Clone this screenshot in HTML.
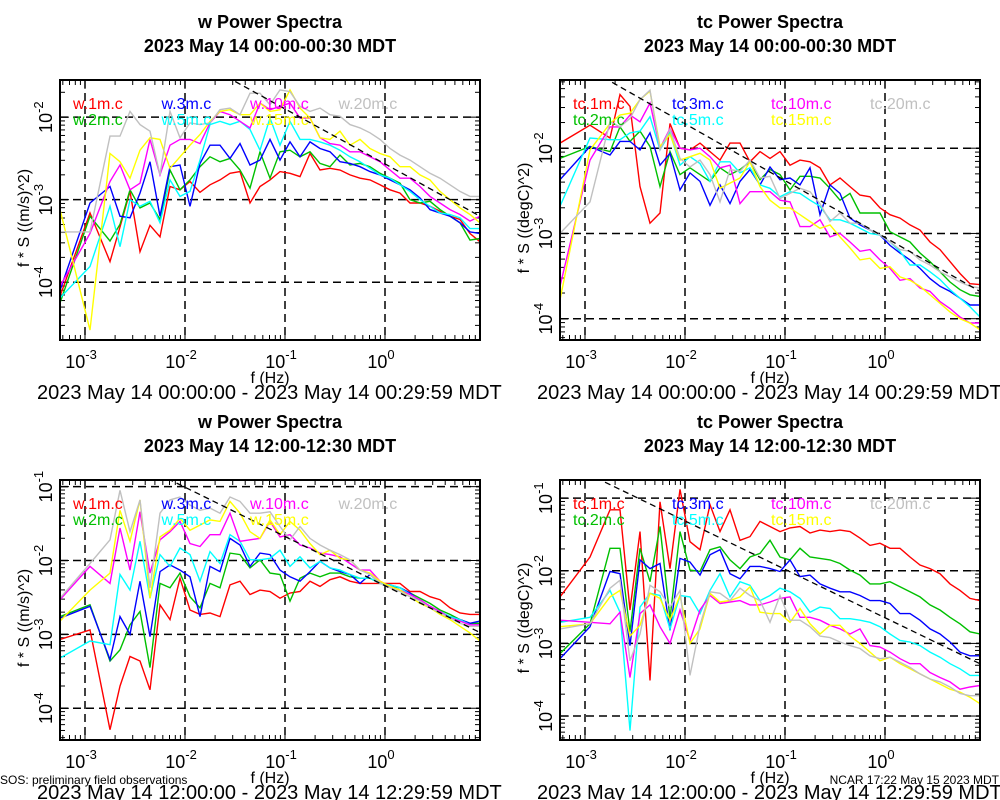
<!DOCTYPE html>
<html><head><meta charset="utf-8"><style>
html,body{margin:0;padding:0;background:#fff;}
svg{display:block;font-family:"Liberation Sans",sans-serif;}
</style></head><body>
<svg id="chart" width="1000" height="800" viewBox="0 0 1000 800" xmlns="http://www.w3.org/2000/svg"></svg>
<script>
// log10 frequency (Hz)
const freqLog = [-3.25,-2.95,-2.75,-2.65,-2.55,-2.45,-2.35,-2.25,-2.15,-2.05,-1.95,-1.85,-1.75,-1.65,-1.55,-1.45,-1.35,-1.25,-1.15,-1.05,-0.95,-0.85,-0.75,-0.65,-0.55,-0.45,-0.35,-0.25,-0.15,-0.05,0.05,0.15,0.25,0.35,0.45,0.55,0.65,0.75,0.85,0.95];
const xTickExps = [-3,-2,-1,0];
const seriesColors = ["#ff0000","#00c000","#0000ff","#00ffff","#ff00ff","#ffff00","#c0c0c0"];
const wNames = ["w.1m.c","w.2m.c","w.3m.c","w.5m.c","w.10m.c","w.15m.c","w.20m.c"];
const tcNames = ["tc.1m.c","tc.2m.c","tc.3m.c","tc.5m.c","tc.10m.c","tc.15m.c","tc.20m.c"];

// Panel 1: w, 00:00-00:30 (log10 of f*S)
const p1Red=[-4.17,-3.16,-3.75,-3.33,-2.90,-3.63,-3.31,-3.45,-2.84,-2.88,-2.78,-2.91,-2.82,-2.76,-2.68,-2.66,-3.04,-2.84,-2.76,-2.66,-2.68,-2.72,-2.44,-2.64,-2.62,-2.64,-2.70,-2.74,-2.76,-2.82,-2.88,-2.92,-3.04,-3.04,-3.08,-3.14,-3.20,-3.24,-3.41,-3.51];
const p1Green=[-4.25,-3.2,-3.5,-3.3,-2.88,-3.1,-3.04,-3.24,-2.64,-2.88,-2.76,-2.6,-2.48,-2.54,-2.5,-2.64,-2.86,-2.42,-2.74,-2.42,-2.4,-2.48,-2.42,-2.56,-2.6,-2.46,-2.58,-2.56,-2.6,-2.68,-2.74,-2.8,-3.0,-3.04,-3.02,-3.12,-3.2,-3.28,-3.49,-3.47];
const p1Blue=[-4.1,-3.04,-2.84,-3.2,-3.22,-2.92,-2.54,-3.2,-2.6,-2.58,-3.08,-2.56,-2.34,-2.34,-2.5,-2.32,-2.58,-2.52,-2.27,-2.52,-2.3,-2.48,-2.3,-2.38,-2.42,-2.54,-2.56,-2.6,-2.66,-2.7,-2.76,-2.82,-2.88,-2.98,-3.12,-3.16,-3.2,-3.28,-3.39,-3.41];
const p1Cyan=[-4.19,-3.81,-3.08,-3.57,-3.0,-3.08,-3.02,-3.28,-2.76,-2.96,-2.9,-2.52,-2.09,-2.05,-2.09,-2.05,-2.15,-2.4,-2.01,-2.34,-2.05,-2.27,-2.27,-2.3,-2.34,-2.4,-2.48,-2.54,-2.62,-2.7,-2.74,-2.82,-2.9,-3.0,-3.08,-3.16,-3.18,-3.22,-3.35,-3.35];
const p1Magenta=[-4.05,-3.41,-2.78,-2.58,-2.88,-2.8,-2.27,-2.7,-2.34,-2.27,-2.27,-2.32,-2.07,-1.93,-1.97,-2.05,-2.13,-1.83,-1.91,-1.87,-1.83,-2.01,-2.01,-2.25,-2.32,-2.34,-2.42,-2.42,-2.48,-2.54,-2.64,-2.74,-2.74,-2.84,-2.96,-3.04,-3.12,-3.18,-3.26,-3.2];
const p1Yellow=[-3.12,-4.58,-2.44,-2.54,-2.74,-2.4,-2.25,-2.27,-2.62,-2.48,-2.34,-2.21,-2.05,-1.93,-1.91,-1.97,-1.97,-1.83,-1.93,-1.91,-1.67,-1.89,-2.01,-2.25,-2.27,-2.17,-2.34,-2.27,-2.38,-2.44,-2.48,-2.6,-2.6,-2.7,-2.76,-2.9,-3.0,-3.1,-3.18,-3.28];
const p1Gray=[-3.39,-3.39,-2.23,-2.23,-1.93,-2.09,-2.17,-2.7,-1.93,-2.25,-2.07,-2.09,-2.07,-1.91,-1.89,-1.97,-1.71,-1.71,-1.85,-1.67,-1.69,-1.87,-1.93,-1.89,-1.97,-1.99,-2.09,-2.13,-2.19,-2.27,-2.38,-2.46,-2.52,-2.6,-2.68,-2.74,-2.82,-2.9,-2.96,-2.96];

// Panel 2: tc, 00:00-00:30
const p2Red=[-1.94,-1.73,-1.88,-1.37,-1.51,-2.45,-2.88,-2.76,-1.71,-2.0,-2.02,-1.94,-2.04,-2.14,-1.94,-1.94,-2.16,-2.04,-2.12,-2.04,-2.2,-2.14,-2.16,-2.23,-2.43,-2.35,-2.45,-2.55,-2.57,-2.7,-2.78,-2.82,-2.9,-2.96,-3.1,-3.19,-3.33,-3.47,-3.59,-3.6];
const p2Green=[-2.12,-1.98,-2.04,-1.75,-1.92,-1.8,-1.98,-2.45,-2.04,-2.31,-2.23,-2.31,-2.39,-2.23,-2.31,-2.25,-2.16,-2.37,-2.25,-2.31,-2.49,-2.33,-2.33,-2.35,-2.47,-2.61,-2.53,-2.76,-2.76,-2.76,-2.98,-3.04,-3.1,-3.23,-3.33,-3.45,-3.57,-3.66,-3.72,-3.74];
const p2Blue=[-2.37,-1.98,-2.08,-1.92,-1.92,-2.02,-1.82,-2.2,-2.06,-2.49,-2.29,-2.39,-2.67,-2.43,-2.65,-2.39,-2.25,-2.43,-2.22,-2.37,-2.35,-2.43,-2.23,-2.78,-2.43,-2.53,-2.82,-2.9,-2.96,-3.02,-3.14,-3.23,-3.31,-3.41,-3.53,-3.62,-3.68,-3.76,-3.84,-3.84];
const p2Cyan=[-2.68,-1.88,-1.9,-1.9,-1.82,-1.8,-1.63,-2.02,-1.82,-2.2,-2.1,-2.18,-2.39,-2.16,-2.16,-2.29,-2.23,-2.43,-2.47,-2.57,-2.51,-2.53,-2.61,-2.68,-2.84,-2.84,-2.88,-2.94,-3.0,-3.02,-3.1,-3.21,-3.37,-3.37,-3.45,-3.54,-3.66,-3.76,-3.86,-3.98];
const p2Magenta=[-3.62,-2.14,-1.75,-1.75,-1.61,-1.69,-1.47,-2.0,-1.77,-2.0,-2.02,-2.0,-2.1,-2.23,-2.2,-2.65,-2.51,-2.51,-2.51,-2.61,-2.63,-2.92,-2.92,-2.84,-3.04,-3.0,-3.1,-3.21,-3.19,-3.31,-3.41,-3.55,-3.53,-3.64,-3.68,-3.8,-3.88,-3.98,-4.05,-4.05];
const p2Yellow=[-3.78,-2.02,-1.71,-1.61,-1.59,-1.43,-1.33,-1.98,-1.84,-2.14,-2.1,-2.06,-2.14,-2.47,-2.41,-2.35,-2.16,-2.45,-2.61,-2.7,-2.7,-2.78,-2.86,-2.94,-2.9,-3.04,-3.17,-3.31,-3.29,-3.41,-3.39,-3.51,-3.55,-3.62,-3.72,-3.82,-3.92,-4.0,-4.05,-4.13];
const p2Gray=[-3.0,-2.63,-1.69,-1.75,-1.65,-1.43,-1.32,-2.02,-1.78,-2.12,-2.22,-2.14,-2.31,-2.63,-2.25,-2.27,-2.14,-2.35,-2.33,-2.59,-2.53,-2.47,-2.51,-2.65,-2.86,-2.76,-2.88,-2.88,-2.96,-3.02,-3.1,-3.19,-3.21,-3.31,-3.37,-3.45,-3.51,-3.57,-3.62,-3.64];

// Panel 3: w, 12:00-12:30
const p3Red=[-3.07,-2.94,-4.29,-3.7,-3.3,-3.36,-3.75,-2.6,-2.8,-2.24,-2.67,-2.73,-2.71,-2.76,-2.33,-2.28,-2.46,-2.4,-2.42,-2.51,-2.44,-2.42,-2.28,-2.35,-2.26,-2.22,-2.28,-2.31,-2.31,-2.31,-2.31,-2.31,-2.42,-2.42,-2.49,-2.53,-2.64,-2.71,-2.73,-2.73];
const p3Green=[-2.76,-2.6,-3.36,-3.21,-2.87,-2.69,-3.45,-2.31,-2.37,-2.17,-2.49,-2.64,-2.31,-2.37,-1.9,-1.92,-2.1,-1.99,-2.17,-2.19,-2.55,-2.24,-2.17,-2.22,-2.17,-2.17,-2.22,-2.24,-2.24,-2.31,-2.35,-2.37,-2.44,-2.51,-2.58,-2.67,-2.73,-2.8,-2.85,-2.85];
const p3Blue=[-2.78,-2.62,-3.34,-2.76,-3.0,-2.28,-3.03,-2.15,-2.06,-2.13,-2.22,-2.76,-2.08,-2.15,-1.7,-1.79,-2.08,-1.9,-1.92,-2.13,-2.22,-2.28,-2.15,-2.01,-2.1,-2.15,-2.19,-2.31,-2.19,-2.31,-2.33,-2.37,-2.44,-2.55,-2.64,-2.71,-2.76,-2.8,-2.85,-2.82];
const p3Cyan=[-3.32,-3.09,-3.14,-2.19,-2.4,-1.74,-2.51,-1.92,-2.08,-1.83,-1.92,-2.28,-1.88,-2.04,-1.65,-1.74,-1.99,-1.99,-1.97,-1.86,-2.08,-1.95,-2.1,-2.01,-2.1,-2.13,-2.19,-2.24,-2.24,-2.31,-2.33,-2.37,-2.46,-2.53,-2.62,-2.69,-2.76,-2.8,-2.87,-2.87];
const p3Magenta=[-2.53,-2.08,-2.31,-1.56,-2.13,-1.34,-2.17,-1.72,-1.61,-1.47,-1.77,-1.81,-1.65,-1.65,-1.36,-1.74,-1.72,-1.7,-1.47,-1.68,-1.65,-1.79,-1.83,-1.9,-1.92,-1.95,-2.04,-2.13,-2.13,-2.28,-2.35,-2.4,-2.46,-2.53,-2.62,-2.69,-2.78,-2.82,-2.87,-2.87];
const p3Yellow=[-2.82,-2.4,-2.17,-1.32,-1.74,-1.18,-2.51,-1.68,-1.59,-1.43,-1.59,-1.52,-1.45,-1.47,-1.2,-1.36,-1.61,-1.7,-1.45,-1.65,-1.47,-1.59,-1.77,-1.92,-1.86,-1.97,-1.99,-2.13,-2.17,-2.28,-2.35,-2.4,-2.49,-2.58,-2.64,-2.73,-2.8,-2.89,-2.98,-3.09];
const p3Gray=[-2.51,-2.04,-1.72,-1.05,-1.61,-1.18,-2.37,-1.36,-1.18,-1.14,-1.25,-1.32,-1.29,-1.36,-1.14,-1.2,-1.36,-1.36,-1.34,-1.54,-1.72,-1.54,-1.7,-1.79,-1.86,-1.92,-1.99,-2.13,-2.19,-2.31,-2.37,-2.42,-2.49,-2.55,-2.64,-2.71,-2.78,-2.85,-2.89,-2.89];

// Panel 4: tc, 12:00-12:30
const p4Red=[-2.36,-1.81,-1.16,-1.16,-2.54,-1.46,-3.51,-1.05,-1.97,-0.88,-1.6,-1.71,-1.09,-1.46,-1.16,-1.58,-1.53,-1.32,-1.39,-1.46,-1.41,-1.39,-1.48,-1.44,-1.46,-1.44,-1.46,-1.55,-1.65,-1.62,-1.69,-1.69,-1.81,-1.92,-1.97,-2.04,-2.18,-2.27,-2.38,-2.41];
const p4Green=[-3.14,-2.73,-1.69,-1.69,-2.84,-1.69,-2.15,-1.39,-2.66,-1.46,-1.99,-2.01,-1.71,-1.67,-1.85,-1.97,-1.81,-1.76,-1.58,-1.81,-1.85,-1.69,-1.81,-1.83,-1.85,-1.9,-1.99,-2.06,-2.18,-2.18,-2.15,-2.22,-2.29,-2.36,-2.47,-2.54,-2.64,-2.73,-2.84,-2.87];
const p4Blue=[-3.21,-2.77,-2.01,-2.04,-3.03,-1.85,-1.97,-1.9,-2.82,-1.83,-1.88,-2.06,-1.78,-1.71,-2.04,-2.11,-1.94,-1.94,-1.97,-2.01,-1.85,-2.08,-2.06,-2.18,-2.24,-2.29,-2.29,-2.34,-2.41,-2.41,-2.45,-2.59,-2.59,-2.68,-2.8,-2.87,-2.98,-3.12,-3.17,-3.17];
const p4Cyan=[-2.71,-2.64,-2.27,-2.57,-4.2,-2.5,-2.31,-2.34,-2.8,-2.34,-2.36,-2.59,-2.27,-2.04,-2.36,-2.15,-2.2,-2.41,-2.34,-2.24,-2.29,-2.38,-2.57,-2.5,-2.52,-2.66,-2.66,-2.68,-2.71,-2.77,-2.87,-2.96,-2.98,-3.03,-3.12,-3.19,-3.28,-3.35,-3.44,-3.44];
const p4Magenta=[-2.68,-2.71,-2.73,-2.57,-3.47,-2.59,-2.47,-2.77,-3.0,-2.54,-2.96,-2.54,-2.34,-2.45,-2.43,-2.41,-2.47,-2.47,-2.43,-2.38,-2.36,-2.64,-2.64,-2.68,-2.75,-2.8,-2.87,-2.8,-3.03,-3.05,-3.12,-3.21,-3.28,-3.28,-3.4,-3.47,-3.53,-3.63,-3.6,-3.58];
const p4Yellow=[-2.77,-2.73,-2.36,-2.27,-2.9,-2.75,-2.31,-2.38,-2.68,-2.34,-3.0,-2.8,-2.31,-2.43,-2.41,-2.36,-2.22,-2.57,-2.59,-2.59,-2.71,-2.52,-2.73,-2.87,-2.75,-2.75,-2.9,-3.0,-3.12,-3.24,-3.19,-3.28,-3.35,-3.42,-3.49,-3.56,-3.63,-3.67,-3.74,-3.83];
const p4Gray=[-2.8,-2.73,-2.24,-2.13,-3.24,-2.87,-2.2,-2.29,-2.5,-2.27,-3.44,-2.75,-2.29,-2.31,-2.41,-2.24,-2.34,-2.41,-2.71,-2.34,-2.68,-2.68,-2.77,-2.9,-2.92,-2.98,-3.03,-3.07,-3.17,-3.21,-3.19,-3.26,-3.33,-3.42,-3.49,-3.53,-3.6,-3.69,-3.72,-3.72];

// -2/3 reference lines: [log f anchor, log fS anchor]
const refAnchors = [[0.95,-3.2],[0.95,-3.68],[0.883,-2.93],[0.95,-3.28]];
const refSlope = -2/3;

const panels = [
  {name:"w-spectra-early", title:"w Power Spectra", sub:"2023 May 14 00:00-00:30 MDT", date:"2023 May 14 00:00:00 - 2023 May 14 00:29:59 MDT", yLabel:"f * S ((m/s)^2)", names:wNames, legStep:88.5,
   x0:60, y0:80, yMin:-4.7, yMax:-1.55, yTicks:[-4,-3,-2], series:[p1Red,p1Green,p1Blue,p1Cyan,p1Magenta,p1Yellow,p1Gray], ref:0},
  {name:"tc-spectra-early", title:"tc Power Spectra", sub:"2023 May 14 00:00-00:30 MDT", date:"2023 May 14 00:00:00 - 2023 May 14 00:29:59 MDT", yLabel:"f * S ((degC)^2)", names:tcNames, legStep:99,
   x0:560, y0:80, yMin:-4.25, yMax:-1.2, yTicks:[-4,-3,-2], series:[p2Red,p2Green,p2Blue,p2Cyan,p2Magenta,p2Yellow,p2Gray], ref:1},
  {name:"w-spectra-noon", title:"w Power Spectra", sub:"2023 May 14 12:00-12:30 MDT", date:"2023 May 14 12:00:00 - 2023 May 14 12:29:59 MDT", yLabel:"f * S ((m/s)^2)", names:wNames, legStep:88.5,
   x0:60, y0:480, yMin:-4.43, yMax:-0.91, yTicks:[-4,-3,-2,-1], series:[p3Red,p3Green,p3Blue,p3Cyan,p3Magenta,p3Yellow,p3Gray], ref:2},
  {name:"tc-spectra-noon", title:"tc Power Spectra", sub:"2023 May 14 12:00-12:30 MDT", date:"2023 May 14 12:00:00 - 2023 May 14 12:29:59 MDT", yLabel:"f * S ((degC)^2)", names:tcNames, legStep:99,
   x0:560, y0:480, yMin:-4.33, yMax:-0.75, yTicks:[-4,-3,-2,-1], series:[p4Red,p4Green,p4Blue,p4Cyan,p4Magenta,p4Yellow,p4Gray], ref:3}
];

const NS = "http://www.w3.org/2000/svg";
const svg = document.getElementById("chart");
function mk(tag, attrs, parent, txt){
  const e = document.createElementNS(NS, tag);
  for (const k in attrs) e.setAttribute(k, attrs[k]);
  if (txt !== undefined) e.textContent = txt;
  (parent||svg).appendChild(e);
  return e;
}
const W = 420, H = 260, XMIN = -3.25, XMAX = 0.95;
const legendCols = [[0,0],[1,0],[0,1],[1,1],[0,2],[1,2],[0,3]]; // [row, col]

panels.forEach((p) => {
  const g = mk("g", {});
  
  
  const xs = v => p.x0 + (v - XMIN) / (XMAX - XMIN) * W;
  const ys = v => p.y0 + (p.yMax - v) / (p.yMax - p.yMin) * H;
  const cx = p.x0 + W/2;

  const t1 = mk("text", {x:cx, y:p.y0-52, "text-anchor":"middle", "font-size":18, "font-weight":"bold"}, g, p.title);
  
  
  const t2 = mk("text", {x:cx, y:p.y0-28, "text-anchor":"middle", "font-size":18, "font-weight":"bold"}, g, p.sub);
  
  

  const clipId = "clip-" + p.name;
  const cp = mk("clipPath", {id:clipId}, g);
  mk("rect", {x:p.x0, y:p.y0, width:W, height:H}, cp);

  // minor ticks
  const ticks = mk("g", {stroke:"#000", "stroke-width":1}, g);
  
  
  for (let d=-4; d<=0; d++) for (let m=1; m<10; m++){
    const v = d + Math.log10(m); if (v < XMIN || v > XMAX) continue;
    const x = xs(v), L = m===1 ? 9 : 5;
    mk("line", {x1:x, y1:p.y0+H, x2:x, y2:p.y0+H-L}, ticks);
    mk("line", {x1:x, y1:p.y0, x2:x, y2:p.y0+L}, ticks);
  }
  for (let d=-5; d<=0; d++) for (let m=1; m<10; m++){
    const v = d + Math.log10(m); if (v < p.yMin || v > p.yMax) continue;
    const y = ys(v), L = m===1 ? 9 : 5;
    mk("line", {x1:p.x0, y1:y, x2:p.x0+L, y2:y}, ticks);
    mk("line", {x1:p.x0+W, y1:y, x2:p.x0+W-L, y2:y}, ticks);
  }
  // grid
  const grid = mk("g", {stroke:"#000", "stroke-width":1.5, "stroke-dasharray":"8,5"}, g);
  
  
  xTickExps.forEach(e => mk("line", {x1:xs(e), y1:p.y0, x2:xs(e), y2:p.y0+H}, grid));
  p.yTicks.forEach(e => mk("line", {x1:p.x0, y1:ys(e), x2:p.x0+W, y2:ys(e)}, grid));

  // x tick labels
  xTickExps.forEach(e => {
    const t = mk("text", {x:xs(e)-4, y:p.y0+H+28, "text-anchor":"middle", "font-size":18}, g);
    
    
    mk("tspan", {}, t, "10");
    mk("tspan", {dy:-9, "font-size":13}, t, String(e));
  });
  // y tick labels (rotated)
  p.yTicks.forEach(e => {
    const t = mk("text", {transform:`translate(${p.x0-8},${ys(e)}) rotate(-90)`, "text-anchor":"middle", "font-size":18}, g);
    
    
    mk("tspan", {}, t, "10");
    mk("tspan", {dy:-9, "font-size":13}, t, String(e));
  });
  const xl = mk("text", {x:cx, y:p.y0+H+43, "text-anchor":"middle", "font-size":16}, g, "f (Hz)");
  
  
  const yl = mk("text", {transform:`translate(${p.x0-31},${p.y0+H/2+8}) rotate(-90)`, "text-anchor":"middle", "font-size":16}, g, p.yLabel);
  
  
  const dl = mk("text", {x:p.x0-23, y:p.y0+H+59, "font-size":20}, g, p.date);
  
  

  // series
  const sg = mk("g", {"clip-path":`url(#${clipId})`, fill:"none", "stroke-width":1.4}, g);
  p.series.forEach((vals, si) => {
    const d = vals.map((v,i) => (i?"L":"M") + xs(freqLog[i]).toFixed(1) + "," + ys(v).toFixed(1)).join("");
    const path = mk("path", {d:d, stroke:seriesColors[si]}, sg);
    
    
  });
  // reference slope line
  const a = refAnchors[p.ref];
  const rl = mk("line", {x1:xs(XMIN), y1:ys(a[1] + refSlope*(XMIN - a[0])), x2:xs(XMAX), y2:ys(a[1] + refSlope*(XMAX - a[0])),
    stroke:"#000", "stroke-width":1.3, "stroke-dasharray":"6,4", "clip-path":`url(#${clipId})`}, g);
  
  

  // legend
  p.names.forEach((n, si) => {
    const rc = legendCols[si];
    const t = mk("text", {x:p.x0 + 13 + rc[1]*p.legStep, y:p.y0 + 29 + rc[0]*16, "font-size":16, fill:seriesColors[si]}, g, n);
    
    
  });
  // frame
  const fr = mk("rect", {x:p.x0, y:p.y0, width:W, height:H, fill:"none", stroke:"#000", "stroke-width":2}, g);
  
  
});

const f1 = mk("text", {x:0, y:784, "font-size":12}, svg, "SOS: preliminary field observations");


const f2 = mk("text", {x:999, y:784, "font-size":12, "text-anchor":"end"}, svg, "NCAR 17:22 May 15 2023 MDT");


</script>
</body></html>
